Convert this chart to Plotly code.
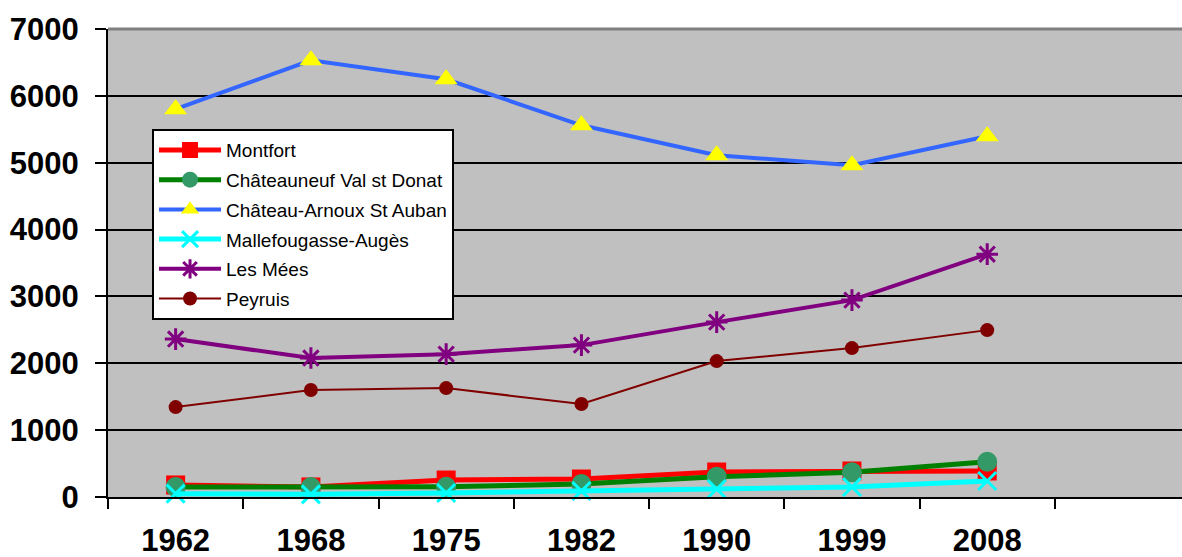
import plotly.graph_objects as go

years = ["1962", "1968", "1975", "1982", "1990", "1999", "2008"]
montfort = [180, 150, 254, 269, 374, 389, 389]
chateauneuf = [150, 150, 154, 194, 304, 369, 528]
chateau_arnoux = [5800, 6532, 6248, 5560, 5112, 4963, 5396]
mallefougasse = [50, 40, 60, 90, 120, 150, 240]
les_mees = [2362, 2078, 2137, 2272, 2616, 2945, 3632]
peyruis = [1345, 1600, 1629, 1390, 2033, 2227, 2496]

series = [
    ("Montfort", montfort, dict(color="#FF0000", width=5), dict(symbol="square", size=19, color="#FF0000")),
    ("Châteauneuf Val st Donat", chateauneuf, dict(color="#008000", width=5), dict(symbol="circle", size=20, color="#339966")),
    ("Château-Arnoux St Auban", chateau_arnoux, dict(color="#3366FF", width=4), dict(symbol="triangle-up", size=20, color="#FFFF00")),
    ("Mallefougasse-Augès", mallefougasse, dict(color="#00FFFF", width=5), dict(symbol="x-thin-open", size=18, color="#00FFFF", line=dict(width=3, color="#00FFFF"))),
    ("Les Mées", les_mees, dict(color="#800080", width=4), dict(symbol="asterisk-open", size=18, color="#800080", line=dict(width=3, color="#800080"))),
    ("Peyruis", peyruis, dict(color="#800000", width=2), dict(symbol="circle", size=14, color="#800000")),
]

fig = go.Figure()
for i, (name, vals, line, marker) in enumerate(series):
    fig.add_trace(go.Scatter(
        x=years, y=vals, name=name, mode="lines+markers",
        line=line, marker=marker, cliponaxis=False, legendgroup=str(i),
    ))

FONT = "Arial, Liberation Sans, sans-serif"

fig.update_layout(
    width=1182, height=557,
    margin=dict(l=108, r=0, t=29, b=60, autoexpand=False),
    paper_bgcolor="white",
    plot_bgcolor="#C0C0C0",
    font=dict(family=FONT, color="black"),
    legend=dict(
        x=0.041, y=0.786, xanchor="left", yanchor="top",
        bgcolor="white", bordercolor="black", borderwidth=2,
        font=dict(size=19, family=FONT, color="black"),
        itemwidth=62, tracegroupgap=2, traceorder="grouped",
    ),
    xaxis=dict(
        type="category", categoryorder="array", categoryarray=years,
        range=[-0.5, 7.44], showgrid=False, automargin=False,
        showline=True, linecolor="black", linewidth=2,
        ticks="outside", tickson="boundaries", ticklen=10, tickwidth=2, tickcolor="black",
        tickfont=dict(size=31, family=FONT, color="black", weight="bold"),
        ticklabelstandoff=15,
    ),
    yaxis=dict(
        range=[0, 7000], dtick=1000, tick0=0, automargin=False,
        showgrid=True, gridcolor="black", gridwidth=2,
        zeroline=False,
        showline=True, linecolor="black", linewidth=2,
        ticks="outside", ticklen=11, tickwidth=2, tickcolor="black",
        tickfont=dict(size=31, family=FONT, color="black", weight="bold"),
        ticklabelstandoff=10,
    ),
    shapes=[dict(type="line", xref="paper", yref="paper", x0=0, x1=1, y0=1, y1=1,
                 line=dict(color="#808080", width=3), layer="above")],
)

fig.write_html(
    "out.html",
    config={"displayModeBar": False},
    post_script="document.body.style.margin='0';document.body.style.overflow='hidden';",
)
